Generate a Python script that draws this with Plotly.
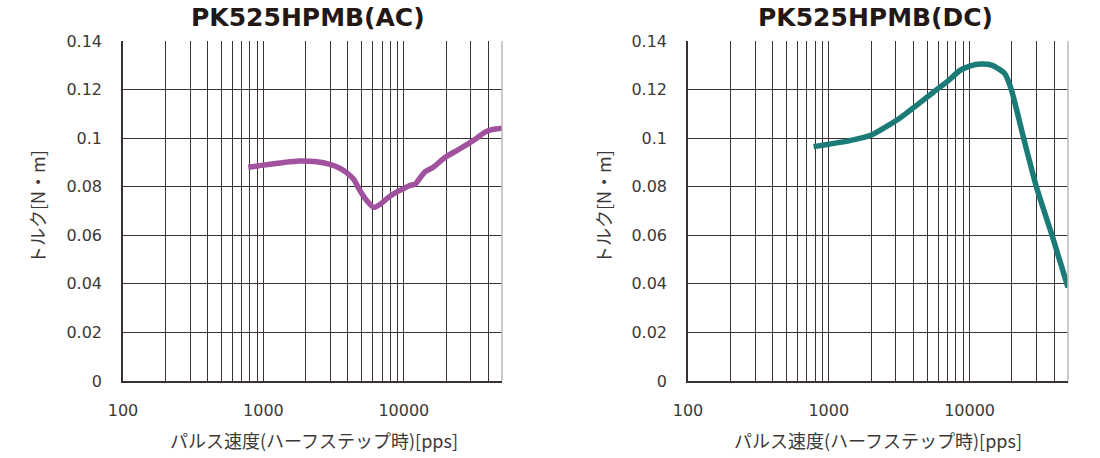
import plotly.graph_objects as go

# ---- data ----
ac_speed = [780, 1000, 1400, 1800, 2400, 2940, 3500, 3900, 4400, 4800, 5400, 6100, 6800, 7800, 9000, 10000, 11000, 12000, 13000, 14200, 16000, 19800, 24000, 28900, 33000, 37900, 43000, 50000]
ac_torque = [0.0880, 0.0889, 0.0900, 0.0906, 0.0903, 0.0893, 0.0876, 0.0858, 0.0830, 0.0790, 0.0745, 0.0715, 0.0728, 0.0757, 0.0780, 0.0792, 0.0805, 0.0810, 0.0835, 0.0862, 0.0878, 0.0922, 0.0950, 0.0978, 0.1000, 0.1025, 0.1036, 0.1041]

dc_speed = [780, 1000, 1410, 2010, 3190, 4200, 5500, 7000, 8500, 10000, 12100, 14500, 17700, 19800, 24200, 29800, 38500, 50000]
dc_torque = [0.0965, 0.0975, 0.0990, 0.1013, 0.1082, 0.1135, 0.1188, 0.1235, 0.1278, 0.1297, 0.1305, 0.1300, 0.1267, 0.1200, 0.1000, 0.0800, 0.0600, 0.0385]

x_tickvals = [100, 200, 300, 400, 500, 600, 700, 800, 900,
              1000, 2000, 3000, 4000, 5000, 6000, 7000, 8000, 9000,
              10000, 20000, 30000, 40000]
x_ticktext = ["100", "", "", "", "", "", "", "", "",
              "1000", "", "", "", "", "", "", "", "",
              "10000", "", "", ""]
y_tickvals = [0, 0.02, 0.04, 0.06, 0.08, 0.10, 0.12, 0.14]
y_ticktext = ["0", "0.02", "0.04", "0.06", "0.08", "0.1", "0.12", "0.14"]

titles = ["PK525HPMB(AC)", "PK525HPMB(DC)"]
x_title = "パルス速度(ハーフステップ時)[pps]"
y_title = "トルク[N・m]"

W, H = 1100, 458
JP = "Noto Sans CJK JP"
NUM = "DejaVu Sans"
GRID = "#3a3232"
TXT = "#3c3838"

fig = go.Figure()
fig.add_trace(go.Scatter(x=ac_speed, y=ac_torque, mode="lines",
                         line=dict(color="#a0529f", width=5.5, shape="spline", smoothing=0.6),
                         xaxis="x", yaxis="y", showlegend=False, hoverinfo="skip"))
fig.add_trace(go.Scatter(x=dc_speed, y=dc_torque, mode="lines",
                         line=dict(color="#1b7b77", width=5.5, shape="spline", smoothing=0.5),
                         xaxis="x2", yaxis="y2", showlegend=False, hoverinfo="skip"))

# plot areas in pixels
left = (123, 502)
right = (688, 1068)
top_px, bot_px = 41, 381
ydom = [1 - bot_px / H, 1 - top_px / H]

def xaxis(dom, anchor):
    return dict(type="log", range=[2, 4.69897], domain=[dom[0] / W, dom[1] / W],
                anchor=anchor, tickvals=x_tickvals, ticktext=x_ticktext,
                showgrid=True, gridcolor=GRID, gridwidth=1, zeroline=False,
                showline=True, linecolor=GRID, linewidth=1.5, ticks="",
                ticklabelstandoff=14, automargin=False,
                tickfont=dict(family=NUM, size=16, color=TXT), fixedrange=True)

def yaxis(anchor):
    return dict(range=[0, 0.14], domain=ydom, anchor=anchor,
                tickvals=y_tickvals, ticktext=y_ticktext,
                showgrid=True, gridcolor=GRID, gridwidth=1, zeroline=False,
                showline=True, linecolor=GRID, linewidth=1.5, ticks="",
                ticklabelstandoff=16, automargin=False,
                tickfont=dict(family=NUM, size=16, color=TXT), fixedrange=True)

fig.update_layout(
    width=W, height=H,
    margin=dict(l=0, r=0, t=0, b=0),
    paper_bgcolor="white", plot_bgcolor="white",
    xaxis=xaxis(left, "y"), yaxis=yaxis("x"),
    xaxis2=xaxis(right, "y2"), yaxis2=yaxis("x2"),
)

# right-edge borders (light gray)
for xr, yr in [("x domain", "y domain"), ("x2 domain", "y2 domain")]:
    fig.add_shape(type="line", xref=xr, yref=yr, x0=1, x1=1, y0=0, y1=1,
                  line=dict(color="#b8b8b8", width=1.5), layer="above")

ann = []
for cx, t in [(308, titles[0]), (875, titles[1])]:
    ann.append(dict(text="<b>" + t + "</b>", x=cx / W, y=1 - 17 / H, xref="paper", yref="paper",
                    showarrow=False, xanchor="center", yanchor="middle",
                    font=dict(family=NUM, size=25, color="#231815")))
for cx in [314, 878]:
    ann.append(dict(text=x_title, x=cx / W, y=1 - 440 / H, xref="paper", yref="paper",
                    showarrow=False, xanchor="center", yanchor="middle",
                    font=dict(family=JP, size=18, color=TXT)))
for cx in [37, 603]:
    ann.append(dict(text=y_title, x=cx / W, y=1 - 207 / H, xref="paper", yref="paper",
                    showarrow=False, xanchor="center", yanchor="middle", textangle=-90,
                    font=dict(family=JP, size=18, color=TXT)))
fig.update_layout(annotations=ann)

fig.write_html("out.html", config={"displayModeBar": False},
               post_script="document.body.style.margin='0';document.body.style.overflow='hidden';")
